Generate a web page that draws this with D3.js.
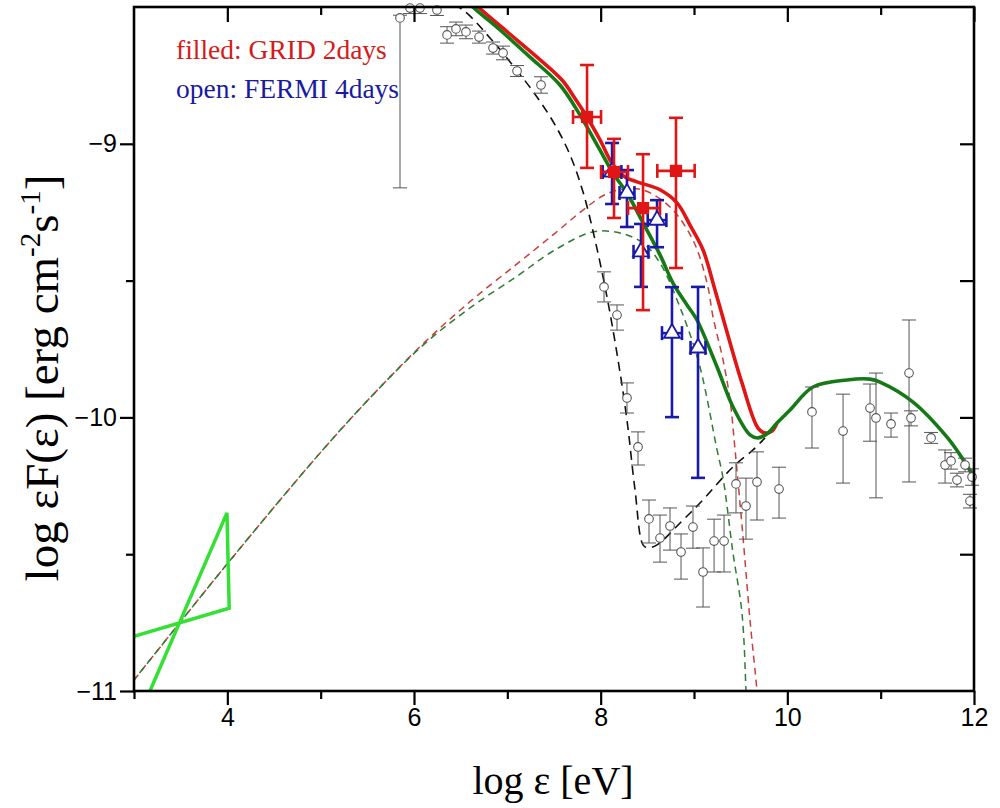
<!DOCTYPE html>
<html><head><meta charset="utf-8">
<script src="https://cdn.jsdelivr.net/npm/d3@7"></script>
<style>body{margin:0;background:#fff}svg{display:block}</style>
</head><body>
<svg id="chart" width="1000" height="808"></svg>
<script>
// ---------------- data ----------------
const xMajorTicks = [4, 6, 8, 10, 12];
const xMinorTicks = [3, 5, 7, 9, 11];
const yMajorTicks = [-11, -10, -9];
const yMinorTicks = [-10.5, -9.5];

// grey archival SED: [logE, logF, errDown, errUp]
const greySED = [
  [5.850, -8.540, 0.621, 0.01], [5.957, -8.504, 0.02, 0.02], [6.064, -8.504, 0.02, 0.02],
  [6.246, -8.511, 0.02, 0.02], [6.354, -8.602, 0.03, 0.03], [6.450, -8.580, 0.025, 0.025],
  [6.557, -8.591, 0.025, 0.025], [6.697, -8.610, 0.022, 0.022], [6.847, -8.650, 0.022, 0.022],
  [6.954, -8.668, 0.025, 0.025], [7.104, -8.734, 0.02, 0.02], [7.361, -8.785, 0.03, 0.03],
  [8.036, -9.523, 0.055, 0.055], [8.175, -9.626, 0.055, 0.037], [8.282, -9.929, 0.055, 0.055],
  [8.400, -10.108, 0.066, 0.055], [8.518, -10.371, 0.088, 0.069], [8.636, -10.441, 0.088, 0.084],
  [8.743, -10.397, 0.088, 0.066], [8.861, -10.492, 0.099, 0.066], [8.989, -10.401, 0.077, 0.077],
  [9.097, -10.565, 0.128, 0.088], [9.215, -10.452, 0.113, 0.080], [9.322, -10.452, 0.113, 0.095],
  [9.450, -10.243, 0.106, 0.077], [9.557, -10.324, 0.121, 0.102], [9.675, -10.236, 0.139, 0.110],
  [9.911, -10.262, 0.106, 0.080], [10.264, -9.980, 0.132, 0.091], [10.597, -10.050, 0.190, 0.135],
  [10.886, -9.966, 0.121, 0.088], [10.950, -10.002, 0.292, 0.164], [11.111, -10.024, 0.048, 0.040],
  [11.304, -9.838, 0.398, 0.194], [11.325, -10.002, 0.029, 0.026], [11.540, -10.075, 0.02, 0.02],
  [11.690, -10.174, 0.066, 0.055], [11.754, -10.159, 0.03, 0.03], [11.818, -10.229, 0.025, 0.025],
  [11.904, -10.174, 0.025, 0.025], [11.979, -10.218, 0.03, 0.03], [11.957, -10.306, 0.025, 0.025]
];

// GRID 2 days (filled): [logE, logF, xErrLeft, xErrRight, yErrDown, yErrUp]
const gridPoints = [
  [7.854, -8.902, 0.150, 0.150, 0.186, 0.190],
  [8.143, -9.103, 0.139, 0.150, 0.168, 0.121],
  [8.454, -9.235, 0.161, 0.182, 0.373, 0.197],
  [8.807, -9.099, 0.200, 0.200, 0.355, 0.194]
];

// FERMI 4 days (open): [logE, logF, xErrLeft, xErrRight, yErrDown, yErrUp]
const fermiPoints = [
  [8.122, -9.103, 0.10, 0.10, 0.117, 0.106],
  [8.282, -9.180, 0.08, 0.08, 0.124, 0.084],
  [8.604, -9.279, 0.10, 0.10, 0.099, 0.073],
  [8.432, -9.395, 0.08, 0.08, 0.128, 0.102],
  [8.764, -9.692, 0.107, 0.107, 0.307, 0.168],
  [9.043, -9.746, 0.08, 0.08, 0.475, 0.223]
];

// model curves [logE, logF]
const modelGreenSolid = [
  [6.547, -8.467], [6.632, -8.500], [6.922, -8.584], [7.243, -8.683], [7.564, -8.785],
  [7.779, -8.895], [7.993, -9.023], [8.132, -9.107], [8.282, -9.180], [8.454, -9.289],
  [8.636, -9.406], [8.775, -9.509], [8.925, -9.589], [9.032, -9.644], [9.247, -9.816],
  [9.418, -9.962], [9.600, -10.064], [9.686, -10.075], [9.793, -10.057], [9.890, -10.020],
  [10.029, -9.973], [10.275, -9.889], [10.640, -9.863], [10.886, -9.860], [10.993, -9.871],
  [11.347, -9.944], [11.711, -10.072], [11.850, -10.137], [12.0, -10.218]
];
const modelRedSolid = [
  [6.579, -8.467], [6.686, -8.500], [6.975, -8.584], [7.318, -8.683], [7.586, -8.767],
  [7.736, -8.840], [7.854, -8.902], [7.993, -8.986], [8.132, -9.077], [8.261, -9.121],
  [8.389, -9.139], [8.636, -9.168], [8.818, -9.216], [8.957, -9.297], [9.097, -9.388],
  [9.225, -9.534], [9.332, -9.662], [9.514, -9.874], [9.686, -10.039], [9.761, -10.057],
  [9.836, -10.050], [9.890, -10.020]
];
const modelRedDashed = [
  [3.0, -10.960], [4.007, -10.532], [5.004, -10.126], [5.600, -9.903], [6.100, -9.730],
  [6.600, -9.577], [7.100, -9.440], [7.500, -9.330], [7.800, -9.245], [8.025, -9.190],
  [8.207, -9.168], [8.454, -9.169], [8.743, -9.231], [8.989, -9.352], [9.140, -9.509],
  [9.204, -9.633], [9.311, -9.790], [9.386, -9.936], [9.440, -10.119], [9.525, -10.437],
  [9.600, -10.741], [9.675, -11.0], [9.697, -11.106]
];
const modelGreenDashed = [
  [3.0, -10.960], [4.007, -10.532], [5.004, -10.126], [5.600, -9.903], [6.100, -9.735],
  [6.600, -9.600], [7.100, -9.485], [7.500, -9.390], [7.918, -9.322], [8.207, -9.326],
  [8.454, -9.363], [8.636, -9.436], [8.882, -9.626], [9.064, -9.816], [9.247, -10.119],
  [9.311, -10.221], [9.418, -10.496], [9.514, -10.715], [9.557, -11.0], [9.568, -11.106]
];
const modelBlackDashed = [
  [6.279, -8.467], [6.525, -8.511], [6.814, -8.613], [7.082, -8.723], [7.318, -8.829],
  [7.511, -8.931], [7.672, -9.041], [7.811, -9.176], [7.940, -9.352], [8.068, -9.560],
  [8.186, -9.790], [8.282, -10.010], [8.368, -10.265], [8.454, -10.466], [8.507, -10.477],
  [8.604, -10.466], [8.882, -10.375], [9.064, -10.313], [9.418, -10.181], [9.632, -10.119],
  [9.761, -10.075]
];
// optical/X-ray bow-tie (light green)
const bowtie = [[3.0, -10.80], [4.02, -10.697], [3.996, -10.349], [3.171, -11.0], [3.10, -11.055]];

const legendLines = [
  {text: "filled: GRID 2days", color: "#d41a1a"},
  {text: "open: FERMI 4days", color: "#1a1aa0"}
];

// ---------------- drawing ----------------
const svg = d3.select("#chart");
const L = 134, R = 974, T = 7, B = 691;
const x = d3.scaleLinear().domain([3, 12]).range([L, R]);
const y = d3.scaleLinear().domain([-11, -8.5]).range([B, T]);

svg.append("rect").attr("width", 1000).attr("height", 808).attr("fill", "#fff");

svg.append("defs").append("clipPath").attr("id", "clip")
  .append("rect").attr("x", L).attr("y", T).attr("width", R - L).attr("height", B - T);

const line = d3.line().x(d => x(d[0])).y(d => y(d[1])).curve(d3.curveCatmullRom.alpha(0.5));
const lineLin = d3.line().x(d => x(d[0])).y(d => y(d[1]));

const gc = svg.append("g").attr("clip-path", "url(#clip)");

// dashed components
gc.append("path").datum(modelRedDashed).attr("d", line).attr("fill", "none")
  .attr("stroke", "#c8403a").attr("stroke-width", 1.5).attr("stroke-dasharray", "7,5");
gc.append("path").datum(modelGreenDashed).attr("d", line).attr("fill", "none")
  .attr("stroke", "#2e7d32").attr("stroke-width", 1.5).attr("stroke-dasharray", "7,5").attr("stroke-dashoffset", 3);
gc.append("path").datum(modelBlackDashed).attr("d", line).attr("fill", "none")
  .attr("stroke", "#111").attr("stroke-width", 1.6).attr("stroke-dasharray", "9,6");

// bow-tie
gc.append("path").datum(bowtie).attr("d", lineLin).attr("fill", "none")
  .attr("stroke", "#33e033").attr("stroke-width", 3.5).attr("stroke-linejoin", "miter");

// grey SED points
const gg = svg.append("g");
greySED.forEach(d => {
  const cx = x(d[0]), y0 = y(d[1] - d[2]), y1 = Math.max(T, y(d[1] + d[3]));
  gg.append("line").attr("x1", cx).attr("x2", cx).attr("y1", y0).attr("y2", y1)
    .attr("stroke", "#555").attr("stroke-width", 1);
  gg.append("line").attr("x1", cx - 7).attr("x2", cx + 7).attr("y1", y0).attr("y2", y0)
    .attr("stroke", "#555").attr("stroke-width", 1);
  if (y1 > T + 1) gg.append("line").attr("x1", cx - 7).attr("x2", cx + 7).attr("y1", y1).attr("y2", y1)
    .attr("stroke", "#555").attr("stroke-width", 1);
});
greySED.forEach(d => {
  gg.append("circle").attr("cx", x(d[0])).attr("cy", y(d[1])).attr("r", 4.3)
    .attr("fill", "#fff").attr("stroke", "#555").attr("stroke-width", 1.1);
});

// model solid curves
gc.append("path").datum(modelRedSolid).attr("d", line).attr("fill", "none")
  .attr("stroke", "#e01515").attr("stroke-width", 3.6);
gc.append("path").datum(modelGreenSolid).attr("d", line).attr("fill", "none")
  .attr("stroke", "#157a15").attr("stroke-width", 3.6);

// error-bar helper
function errBars(g, pts, color, w, cap) {
  pts.forEach(d => {
    const cx = x(d[0]), cy = y(d[1]);
    const xl = x(d[0] - d[2]), xr = x(d[0] + d[3]);
    const yd = y(d[1] - d[4]), yu = y(d[1] + d[5]);
    const seg = (a, b, c, e) => g.append("line").attr("x1", a).attr("y1", b).attr("x2", c).attr("y2", e)
      .attr("stroke", color).attr("stroke-width", w);
    seg(cx, yd, cx, yu); seg(cx - cap, yd, cx + cap, yd); seg(cx - cap, yu, cx + cap, yu);
    seg(xl, cy, xr, cy); seg(xl, cy - cap, xl, cy + cap); seg(xr, cy - cap, xr, cy + cap);
  });
}

const gb = svg.append("g");
errBars(gb, fermiPoints, "#1a1aa8", 2.6, 7);
gb.selectAll("path.tri").data(fermiPoints).join("path").attr("class", "tri")
  .attr("d", d3.symbol(d3.symbolTriangle).size(110))
  .attr("transform", d => `translate(${x(d[0])},${y(d[1])})`)
  .attr("fill", "#fff").attr("stroke", "#1a1aa8").attr("stroke-width", 1.8);

const gr = svg.append("g");
errBars(gr, gridPoints, "#e01515", 2.6, 7);
gr.selectAll("path.sq").data(gridPoints).join("path").attr("class", "sq")
  .attr("d", d3.symbol(d3.symbolSquare).size(150))
  .attr("transform", d => `translate(${x(d[0])},${y(d[1])})`)
  .attr("fill", "#e01515");

// axes
const tickFont = "'Liberation Sans', Arial, sans-serif";
function styleAxis(g) {
  g.select(".domain").remove();
  g.selectAll(".tick line").attr("stroke", "#000").attr("stroke-width", 2.2);
  g.selectAll(".tick text").attr("font-family", tickFont).attr("font-size", 25).attr("fill", "#000");
}
svg.append("g").attr("transform", `translate(0,${B})`)
  .call(d3.axisBottom(x).tickValues(xMajorTicks).tickSize(14).tickPadding(3).tickFormat(d3.format("d"))).call(styleAxis);
svg.append("g").attr("transform", `translate(0,${B})`)
  .call(d3.axisBottom(x).tickValues(xMinorTicks).tickSize(8).tickFormat("")).call(styleAxis);
svg.append("g").attr("transform", `translate(0,${T})`)
  .call(d3.axisTop(x).tickValues(xMajorTicks).tickSize(-15).tickFormat("")).call(styleAxis);
svg.append("g").attr("transform", `translate(0,${T})`)
  .call(d3.axisTop(x).tickValues(xMinorTicks.filter(v => v > 3)).tickSize(-8).tickFormat("")).call(styleAxis);
svg.append("g").attr("transform", `translate(${L},0)`)
  .call(d3.axisLeft(y).tickValues(yMajorTicks).tickSize(14).tickPadding(3).tickFormat(d3.format("d"))).call(styleAxis);
svg.append("g").attr("transform", `translate(${L},0)`)
  .call(d3.axisLeft(y).tickValues(yMinorTicks).tickSize(8).tickFormat("")).call(styleAxis);
svg.append("g").attr("transform", `translate(${R},0)`)
  .call(d3.axisRight(y).tickValues(yMajorTicks.filter(v => v > -11)).tickSize(-14).tickFormat("")).call(styleAxis);
svg.append("g").attr("transform", `translate(${R},0)`)
  .call(d3.axisRight(y).tickValues(yMinorTicks).tickSize(-14).tickFormat("")).call(styleAxis);

svg.append("rect").attr("x", L).attr("y", T).attr("width", R - L).attr("height", B - T)
  .attr("fill", "none").attr("stroke", "#000").attr("stroke-width", 2.6);

// titles
const serif = "'Liberation Serif', 'Times New Roman', serif";
svg.append("text").attr("x", 553).attr("y", 794).attr("text-anchor", "middle")
  .attr("font-family", serif).attr("font-size", 40).attr("fill", "#000").text("log ε [eV]");

const yt = svg.append("text").attr("transform", "translate(58,378) rotate(-90)")
  .attr("text-anchor", "middle").attr("font-family", serif).attr("font-size", 47).attr("fill", "#000");
yt.append("tspan").text("log εF(ε) [erg cm");
yt.append("tspan").attr("dy", -18).attr("font-size", 29).text("-2");
yt.append("tspan").attr("dy", 18).text("s");
yt.append("tspan").attr("dy", -18).attr("font-size", 29).text("-1");
yt.append("tspan").attr("dy", 18).text("]");

// legend
legendLines.forEach((d, i) => {
  svg.append("text").attr("x", 176).attr("y", 59 + i * 39)
    .attr("font-family", serif).attr("font-size", 27.5).attr("fill", d.color).text(d.text);
});
</script>
</body></html>
